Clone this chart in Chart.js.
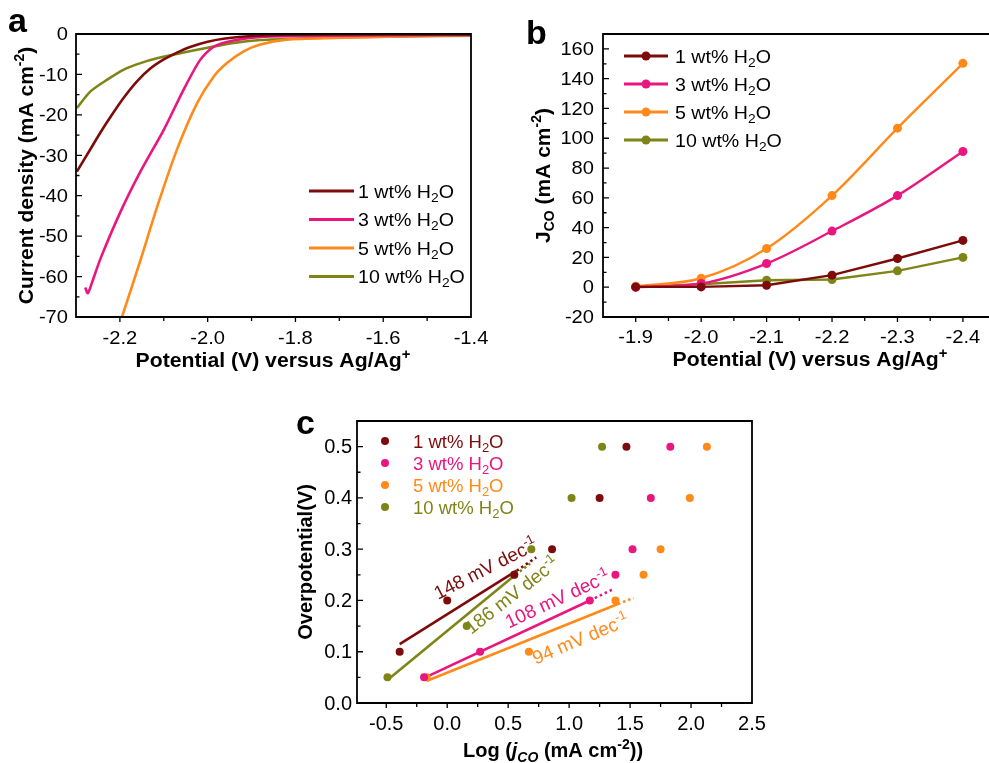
<!DOCTYPE html>
<html>
<head>
<meta charset="utf-8">
<title>LSV, J_CO and Tafel plots</title>
<script src="https://cdn.jsdelivr.net/npm/chart.js@4.4.1/dist/chart.umd.min.js"></script>
<style>
  body { margin: 0; background: #fff; }
  canvas { position: absolute; left: 0; top: 0; }
</style>
</head>
<body>
<canvas id="chartA" width="989" height="763"></canvas>
<canvas id="chartB" width="989" height="763"></canvas>
<canvas id="chartC" width="989" height="763"></canvas>
<script>
// Series shared by all three panels
const waterPercent = [1, 3, 5, 10];
const seriesColors = ["#7d0b0b", "#ea1680", "#ff8a1a", "#7f8417"];

// Panel a: LSV curves, potential (V vs Ag/Ag+) and current density (mA cm-2)
const lsvV1 = [-2.298, -2.27, -2.244, -2.217, -2.19, -2.16, -2.13, -2.1, -2.07, -2.04, -2.0, -1.96, -1.9, -1.8, -1.6, -1.4];
const lsvJ1 = [-34.0, -29.0, -24.3, -19.8, -15.6, -11.6, -8.5, -6.3, -4.6, -3.2, -1.9, -1.1, -0.5, -0.2, -0.1, -0.1];
const lsvV3 = [-2.279, -2.273, -2.263, -2.244, -2.2, -2.153, -2.1, -2.055, -2.017, -1.986, -1.941, -1.88, -1.714, -1.4];
const lsvJ3 = [-62.7, -64.1, -61.3, -55.5, -44.3, -34.0, -23.7, -13.8, -6.4, -3.1, -1.6, -0.7, -0.4, -0.25];
const lsvV5 = [-2.195, -2.153, -2.115, -2.07, -2.024, -1.986, -1.956, -1.918, -1.88, -1.82, -1.714, -1.562, -1.4];
const lsvJ5 = [-69.9, -55.9, -42.7, -28.6, -17.1, -10.5, -7.2, -4.3, -2.6, -1.4, -1.0, -0.6, -0.3];
const lsvV10 = [-2.298, -2.267, -2.229, -2.191, -2.153, -2.111, -2.06, -2.0, -1.941, -1.88, -1.79, -1.64, -1.4];
const lsvJ10 = [-18.3, -14.2, -11.3, -8.8, -7.2, -5.9, -4.7, -3.4, -2.2, -1.5, -1.1, -0.7, -0.4];
const lsvTicksX = [-2.2, -2.0, -1.8, -1.6, -1.4];
const lsvTicksY = [0, -10, -20, -30, -40, -50, -60, -70];

// Panel b: partial current density of CO
const jcoPotential = [-1.9, -2.0, -2.1, -2.2, -2.3, -2.4];
const jco1 = [0.2, 0.2, 1.3, 8.1, 19.3, 31.4];
const jco3 = [0.0, 2.5, 15.9, 37.7, 61.5, 91.1];
const jco5 = [0.6, 6.0, 26.0, 61.5, 106.8, 150.3];
const jco10 = [0.2, 2.0, 4.7, 5.2, 11.0, 20.0];
const jcoTicksX = [-1.9, -2.0, -2.1, -2.2, -2.3, -2.4];
const jcoTicksY = [-20, 0, 20, 40, 60, 80, 100, 120, 140, 160];

// Panel c: Tafel plots, log(jCO) and overpotential (V)
const tafelLog1 = [-0.39, 0.0, 0.55, 0.86, 1.25, 1.47];
const tafelEta1 = [0.10, 0.20, 0.25, 0.30, 0.40, 0.50];
const tafelLog3 = [-0.19, 0.27, 1.17, 1.38, 1.52, 1.67, 1.83];
const tafelEta3 = [0.05, 0.10, 0.20, 0.25, 0.30, 0.40, 0.50];
const tafelLog5 = [-0.17, 0.67, 1.38, 1.61, 1.75, 1.99, 2.13];
const tafelEta5 = [0.05, 0.10, 0.20, 0.25, 0.30, 0.40, 0.50];
const tafelLog10 = [-0.49, 0.16, 0.55, 0.69, 1.02, 1.27];
const tafelEta10 = [0.05, 0.15, 0.25, 0.30, 0.40, 0.50];
// linear fits: solid part, then dotted extension
const fitLog1 = [-0.39, 0.57, 0.73];
const fitEta1 = [0.115, 0.258, 0.284];
const fitLog3 = [-0.17, 1.17, 1.36];
const fitEta3 = [0.051, 0.200, 0.222];
const fitLog5 = [-0.17, 1.40, 1.53];
const fitEta5 = [0.043, 0.193, 0.205];
const fitLog10 = [-0.49, 0.56, 0.68];
const fitEta10 = [0.045, 0.250, 0.272];
const tafelSlopes = [148, 108, 94, 186];
const tafelTicksX = [-0.5, 0.0, 0.5, 1.0, 1.5, 2.0, 2.5];
const tafelTicksY = [0.0, 0.1, 0.2, 0.3, 0.4, 0.5];

const FONT = '"Liberation Sans", Arial, Helvetica, sans-serif';

function fontStr(size, bold, italic) {
  return (italic ? "italic " : "") + (bold ? "bold " : "") + size + "px " + FONT;
}

function zip(xs, ys) {
  return xs.map((x, i) => ({ x: x, y: ys[i] }));
}

// draws text with sub/superscript pieces, centred (or left aligned) on x,y
function richText(ctx, parts, x, y, o) {
  const size = o.size;
  const pieceFont = (p) => fontStr(p.s ? Math.round(size * 0.68) : size, o.bold, p.i);
  let total = 0;
  const widths = parts.map((p) => {
    ctx.font = pieceFont(p);
    const w = ctx.measureText(p.t).width;
    total += w;
    return w;
  });
  ctx.save();
  ctx.translate(x, y);
  ctx.scale(o.sx || 1, 1);
  ctx.rotate(o.angle || 0);
  ctx.fillStyle = o.color || "#000";
  ctx.textAlign = "left";
  ctx.textBaseline = "alphabetic";
  let cx = o.align === "left" ? 0 : -total / 2;
  parts.forEach((p, i) => {
    ctx.font = pieceFont(p);
    let dy = size * 0.36;
    if (p.s === "sup") dy -= size * 0.4;
    if (p.s === "sub") dy += size * 0.22;
    ctx.fillText(p.t, cx, dy);
    cx += widths[i];
  });
  ctx.restore();
}

function waterLabel(i) {
  return [{ t: waterPercent[i] + " wt% H" }, { t: "2", s: "sub" }, { t: "O" }];
}

function minorValues(scale, step) {
  const lo = Math.min(scale.min, scale.max);
  const hi = Math.max(scale.min, scale.max);
  const out = [];
  for (let k = Math.ceil(lo / step - 1e-6); k * step <= hi + 1e-9; k++) out.push(k * step);
  return out;
}

function isMajor(v, step) {
  const r = v / step;
  return Math.abs(r - Math.round(r)) < 1e-6;
}

// frame, ticks, tick labels, axis titles, legend and panel letter
const decorPlugin = {
  id: "decor",
  afterDraw(chart, args, o) {
    const ctx = chart.ctx;
    const a = chart.chartArea;
    const xs = chart.scales.x;
    const ys = chart.scales.y;
    ctx.save();

    // minor/major ticks
    ctx.strokeStyle = "#000";
    ctx.lineWidth = 1.3;
    ctx.beginPath();
    minorValues(xs, o.xMinor).forEach((v) => {
      const px = xs.getPixelForValue(v);
      if (px < a.left + 1 || px > a.right - 1) return;
      const len = isMajor(v, o.xMajor) ? 5 : 4;
      ctx.moveTo(px, a.bottom);
      ctx.lineTo(px, a.bottom + len);
    });
    minorValues(ys, o.yMinor).forEach((v) => {
      const py = ys.getPixelForValue(v);
      if (py < a.top + 1 || py > a.bottom - 1) return;
      const len = isMajor(v, o.yMajor) ? 6 : 3.5;
      ctx.moveTo(a.left, py);
      ctx.lineTo(a.left + len, py);
    });
    ctx.stroke();

    // frame (the right side of panel b falls outside the figure)
    ctx.lineWidth = 1.8;
    ctx.beginPath();
    ctx.moveTo(o.openRight ? chart.width : a.right, a.top);
    ctx.lineTo(a.left, a.top);
    ctx.lineTo(a.left, a.bottom);
    ctx.lineTo(o.openRight ? chart.width : a.right, a.bottom);
    if (!o.openRight) ctx.closePath();
    ctx.stroke();

    // tick labels
    ctx.fillStyle = "#000";
    o.xTicks.forEach((v) => {
      ctx.save();
      ctx.translate(xs.getPixelForValue(v), a.bottom + o.xGap);
      ctx.scale(o.sx, 1);
      ctx.font = fontStr(o.tickSize, false, false);
      ctx.textAlign = "center";
      ctx.textBaseline = "top";
      ctx.fillText(o.xFmt(v), 0, 0);
      ctx.restore();
    });
    o.yTicks.forEach((v) => {
      ctx.save();
      ctx.translate(a.left - o.yGap, ys.getPixelForValue(v));
      ctx.scale(o.sx, 1);
      ctx.font = fontStr(o.tickSize, false, false);
      ctx.textAlign = "right";
      ctx.textBaseline = "middle";
      ctx.fillText(o.yFmt(v), 0, 1);
      ctx.restore();
    });

    // axis titles
    richText(ctx, o.xTitle, o.xTitleX, o.xTitleY, { size: o.titleSize, bold: true, sx: o.sx });
    richText(ctx, o.yTitle, o.yTitleX, (a.top + a.bottom) / 2, { size: o.yTitleSize, bold: true, angle: -Math.PI / 2 });

    // panel letter
    ctx.font = fontStr(34, true, false);
    ctx.textAlign = "left";
    ctx.textBaseline = "alphabetic";
    ctx.fillText(o.letter, o.letterX, o.letterY);

    // legend
    const lg = o.legend;
    seriesColors.forEach((color, i) => {
      const y = lg.y + i * lg.gap;
      if (lg.line) {
        ctx.strokeStyle = color;
        ctx.lineWidth = 3;
        ctx.beginPath();
        ctx.moveTo(lg.x, y);
        ctx.lineTo(lg.x + lg.line, y);
        ctx.stroke();
      }
      if (lg.marker) {
        ctx.fillStyle = color;
        ctx.beginPath();
        ctx.arc(lg.x + lg.markerAt, y, lg.marker, 0, Math.PI * 2);
        ctx.fill();
      }
      richText(ctx, waterLabel(i), lg.textX, y, {
        size: lg.size, align: "left", sx: o.sx,
        color: lg.colored ? color : "#000"
      });
    });

    // slope annotations
    (o.notes || []).forEach((n) => {
      richText(ctx, [{ t: n.text + " mV dec" }, { t: "-1", s: "sup" }],
        xs.getPixelForValue(n.x), ys.getPixelForValue(n.y),
        { size: 19, angle: (n.angle * Math.PI) / 180, color: n.color });
    });

    ctx.restore();
  }
};

function baseOptions(padding, xMin, xMax, yMin, yMax, reverseX, decor) {
  return {
    responsive: false,
    animation: false,
    events: [],
    layout: { padding: padding },
    scales: {
      x: { type: "linear", display: false, min: xMin, max: xMax, reverse: reverseX },
      y: { type: "linear", display: false, min: yMin, max: yMax }
    },
    plugins: { legend: { display: false }, tooltip: { enabled: false }, decor: decor }
  };
}

const potentialTitle = [{ t: "Potential (V) versus Ag/Ag" }, { t: "+", s: "sup" }];

// ---------- Panel a ----------
const lsvX = [lsvV1, lsvV3, lsvV5, lsvV10];
const lsvY = [lsvJ1, lsvJ3, lsvJ5, lsvJ10];
new Chart(document.getElementById("chartA"), {
  type: "line",
  data: {
    datasets: lsvX.map((xs, i) => ({
      data: zip(xs, lsvY[i]),
      borderColor: seriesColors[i],
      borderWidth: 2.6,
      pointRadius: 0,
      tension: 0.25
    }))
  },
  options: baseOptions({ left: 76, top: 34, right: 518, bottom: 446 }, -2.3, -1.4, -70, 0, false, {
    xMajor: 0.2, xMinor: 0.1, yMajor: 10, yMinor: 5,
    xTicks: lsvTicksX, yTicks: lsvTicksY,
    xFmt: (v) => v.toFixed(1), yFmt: (v) => String(v),
    tickSize: 19, sx: 1.06, xGap: 12, yGap: 8,
    xTitle: potentialTitle, xTitleX: 273, xTitleY: 360, titleSize: 20,
    yTitle: [{ t: "Current density (mA cm" }, { t: "-2", s: "sup" }, { t: ")" }],
    yTitleX: 25, yTitleSize: 21,
    letter: "a", letterX: 8, letterY: 32,
    legend: { x: 309, y: 191, gap: 28.5, line: 45, textX: 358, size: 18.5 }
  }),
  plugins: [decorPlugin]
});

// ---------- Panel b ----------
const jcoSeries = [jco1, jco3, jco5, jco10];
new Chart(document.getElementById("chartB"), {
  type: "line",
  data: {
    datasets: jcoSeries.map((vals, i) => ({
      data: zip(jcoPotential, vals),
      borderColor: seriesColors[i],
      backgroundColor: seriesColors[i],
      borderWidth: 2.4,
      pointRadius: 4.5,
      pointBorderWidth: 0,
      cubicInterpolationMode: i === 1 || i === 2 ? "monotone" : "default",
      tension: i === 1 || i === 2 ? 0.4 : 0
    }))
  },
  options: baseOptions({ left: 603, top: 34, right: 0, bottom: 446 }, -2.433, -1.85, -20, 170, true, {
    openRight: true,
    xMajor: 0.1, xMinor: 0.05, yMajor: 20, yMinor: 10,
    xTicks: jcoTicksX, yTicks: jcoTicksY,
    xFmt: (v) => v.toFixed(1), yFmt: (v) => String(v),
    tickSize: 19, sx: 1.06, xGap: 11, yGap: 9,
    xTitle: potentialTitle, xTitleX: 810, xTitleY: 359, titleSize: 20,
    yTitle: [{ t: "J" }, { t: "CO", s: "sub" }, { t: " (mA cm" }, { t: "-2", s: "sup" }, { t: ")" }],
    yTitleX: 542, yTitleSize: 21,
    letter: "b", letterX: 526, letterY: 44,
    legend: { x: 624, y: 56, gap: 28, line: 44, marker: 4.5, markerAt: 22, textX: 675, size: 18.5 }
  }),
  plugins: [decorPlugin]
});

// ---------- Panel c ----------
const tafelX = [tafelLog1, tafelLog3, tafelLog5, tafelLog10];
const tafelY = [tafelEta1, tafelEta3, tafelEta5, tafelEta10];
const fitX = [fitLog1, fitLog3, fitLog5, fitLog10];
const fitY = [fitEta1, fitEta3, fitEta5, fitEta10];
const tafelSets = [];
tafelX.forEach((xs, i) => {
  tafelSets.push({
    type: "scatter",
    data: zip(xs, tafelY[i]),
    backgroundColor: seriesColors[i],
    borderColor: seriesColors[i],
    pointRadius: 4,
    pointBorderWidth: 0,
    showLine: false
  });
});
fitX.forEach((xs, i) => {
  const pts = zip(xs, fitY[i]);
  tafelSets.push({
    type: "line", data: pts.slice(0, 2), borderColor: seriesColors[i],
    borderWidth: 2.6, pointRadius: 0
  });
  tafelSets.push({
    type: "line", data: pts.slice(1), borderColor: seriesColors[i],
    borderWidth: 2.6, borderDash: [2.5, 3], pointRadius: 0
  });
});
new Chart(document.getElementById("chartC"), {
  type: "scatter",
  data: { datasets: tafelSets },
  options: baseOptions({ left: 357, top: 421, right: 237, bottom: 60 }, -0.74, 2.5, 0, 0.55, false, {
    xMajor: 0.5, xMinor: 0.25, yMajor: 0.1, yMinor: 0.05,
    xTicks: tafelTicksX, yTicks: tafelTicksY,
    xFmt: (v) => v.toFixed(1), yFmt: (v) => v.toFixed(1),
    tickSize: 20, sx: 1.0, xGap: 11, yGap: 5,
    xTitle: [{ t: "Log (" }, { t: "j", i: true }, { t: "CO", s: "sub", i: true }, { t: " (mA cm" }, { t: "-2", s: "sup" }, { t: "))" }],
    xTitleX: 553, xTitleY: 750, titleSize: 20,
    yTitle: [{ t: "Overpotential(V)" }],
    yTitleX: 305, yTitleSize: 20,
    letter: "c", letterX: 296, letterY: 434,
    legend: { x: 385, y: 441, gap: 22, marker: 4, markerAt: 0, textX: 413, size: 18.5, colored: true },
    notes: [
      { text: tafelSlopes[0], x: 0.312, y: 0.263, angle: -27, color: seriesColors[0] },
      { text: tafelSlopes[3], x: 0.527, y: 0.211, angle: -38, color: seriesColors[3] },
      { text: tafelSlopes[1], x: 0.903, y: 0.204, angle: -25, color: seriesColors[1] },
      { text: tafelSlopes[2], x: 1.091, y: 0.126, angle: -23, color: seriesColors[2] }
    ]
  }),
  plugins: [decorPlugin]
});
</script>
</body>
</html>
